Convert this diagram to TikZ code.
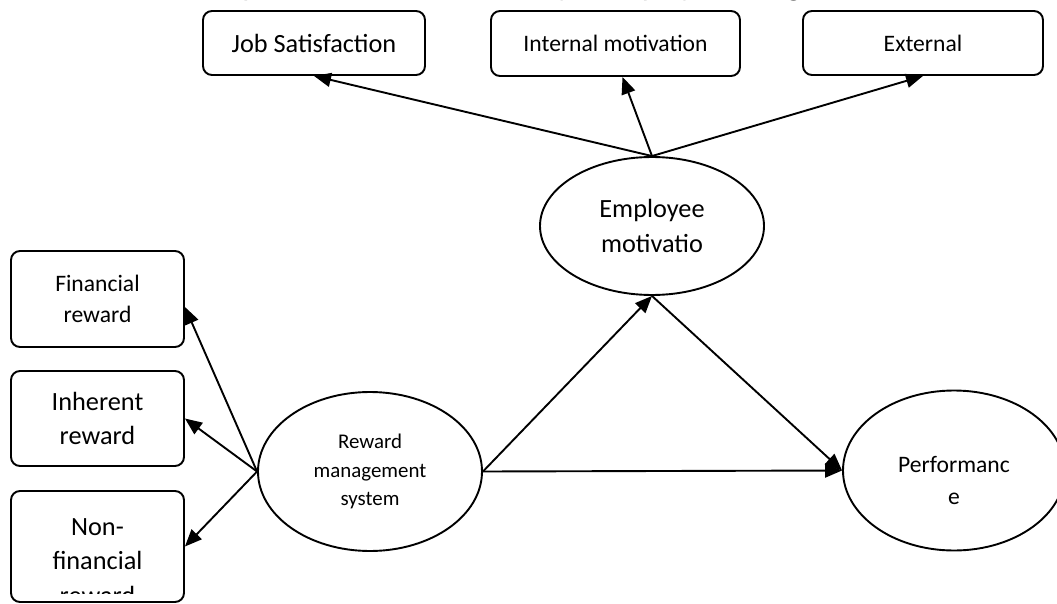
\documentclass[tikz,border=0pt]{standalone}
\usepackage{fontspec}
\setmainfont{Carlito}
\usetikzlibrary{shapes.geometric}
\usetikzlibrary{arrows.meta}

\tikzset{
  rbox/.style={draw,line width=1.9pt,rounded corners=9pt,inner sep=0pt,align=center},
  ell/.style={draw,ellipse,line width=1.9pt,inner sep=0pt,align=center},
  arr/.style={line width=1.9pt,-{Triangle[length=17pt,width=14pt]}},
  txtL/.style={font=\fontsize{26.3pt}{34.7pt}\selectfont},
  txtM/.style={font=\fontsize{23.6pt}{31.5pt}\selectfont},
  txtS/.style={font=\fontsize{20.9pt}{28.3pt}\selectfont},
}

\begin{document}
\begin{tikzpicture}[x=1pt,y=-1pt]

  \pgfmathsetmacro\lx{97.5}   % centre of left column
  \pgfmathsetmacro\lw{173}    % width of left boxes

  \useasboundingbox (0,0) rectangle (1057,604);
  \clip (0,0) rectangle (1057,604);

% line of running text, cut at the top
  \node[font=\fontsize{31.6pt}{38pt}\selectfont,anchor=base west,inner sep=0pt] (bodyline) at (-7.5,-4)
       {variable. The conceptual model of the survey is displayed in Figure 3-1.};

% top row
  \node[rbox,txtL,minimum width=222pt,minimum height=64pt] (job) at (314,43) {Job Satisfaction};
  \node[rbox,txtM,minimum width=249pt,minimum height=65pt] (int) at (615.5,43.5) {Internal motivation};
  \node[rbox,txtM,minimum width=240pt,minimum height=64pt] (ext) at (923,43) {External};

% ellipses
  \node[ell,txtL,minimum width=224pt,minimum height=138pt] (emp) at (652,226) {Employee\\motivatio};
  \node[ell,txtS,minimum width=224pt,minimum height=159pt] (rew) at (370,471.5) {Reward\\management\\system};
  \node[ell,minimum width=222pt,minimum height=160pt,
        label={[txtM,align=center,yshift=-10pt]center:{Performanc\\e}}] (perf) at (954,470.5) {};

% left column
  \node[rbox,txtM,minimum width=\lw pt,minimum height=96pt] (fin) at (\lx,299) {Financial\\reward};
  \node[rbox,txtL,minimum width=\lw pt,minimum height=95pt] (inh) at (\lx,418.5) {Inherent\\reward};
  \node[rbox,minimum width=\lw pt,minimum height=111pt,
        path picture={
          \clip (path picture bounding box.north west) rectangle ([yshift=9pt]path picture bounding box.south east);
          \node[txtL,align=center,anchor=north,inner sep=0pt] (nonfintxt)
               at ([yshift=-14pt]path picture bounding box.north) {Non-\\financial\\reward};
        }] (nonfin) at (\lx,546.5) {};

% arrows
  \draw[arr] (emp.north) -- (job.south);
  \draw[arr] (emp.north) -- ([xshift=7pt]int.south);
  \draw[arr] (emp.north) -- (ext.south);
  \draw[arr] (rew.west) -- ([yshift=-8pt]fin.east);
  \draw[arr] (rew.west) -- (inh.east);
  \draw[arr] (rew.west) -- (nonfin.east);
  \draw[arr] (rew.east) -- (emp.south);
  \draw[arr] (emp.south) -- (perf.west);
  \draw[arr] (rew.east) -- (perf.west);

\end{tikzpicture}
\end{document}
